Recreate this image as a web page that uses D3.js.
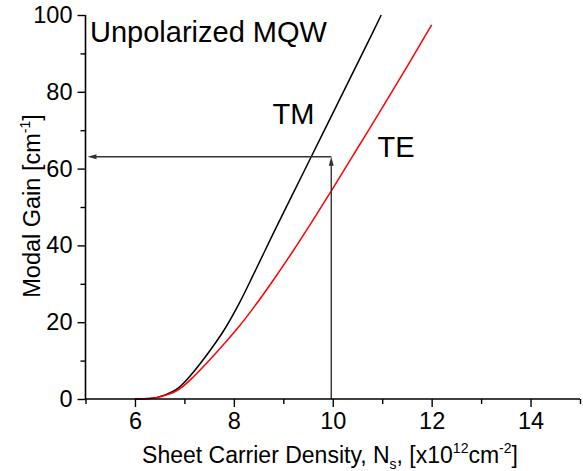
<!DOCTYPE html>
<html>
<head>
<meta charset="utf-8">
<script src="https://cdn.jsdelivr.net/npm/d3@7"></script>
<style>
  html, body { margin: 0; padding: 0; background: #fff; }
  text { font-family: "Liberation Sans", Arial, sans-serif; fill: #000; }
</style>
</head>
<body>
<svg id="chart" width="583" height="471"></svg>
<script>
// ---- data ----
const tmDensity = [6.0, 6.3, 6.6, 6.9, 7.2, 7.5, 7.8, 8.1, 8.4, 8.8, 9.2, 9.6, 10.0, 10.4, 10.8, 10.98];
const tmGain    = [0, 0.1, 1.0, 3.1, 7.3, 12.3, 17.9, 24.7, 32.5, 43.2, 53.6, 64.0, 74.4, 84.8, 95.2, 100];
const teDensity = [6.0, 6.3, 6.6, 6.9, 7.2, 7.5, 7.8, 8.1, 8.4, 8.8, 9.2, 9.6, 10.0, 10.5, 11.0, 11.5, 12.0];
const teGain    = [0, 0.1, 0.9, 2.6, 6.0, 10.0, 14.3, 18.8, 23.8, 31.0, 38.6, 46.6, 54.8, 65.3, 75.8, 86.5, 97.4];
const xTicks = [6, 8, 10, 12, 14];
const xMinorTicks = [5, 7, 9, 11, 13, 15];
const yTicks = [0, 20, 40, 60, 80, 100];
const yMinorTicks = [10, 30, 50, 70, 90];
const markerDensity = 9.97;   // vertical guide
const markerGain = 63.1;      // horizontal guide

// ---- layout ----
const svg = d3.select("#chart");
const x = d3.scaleLinear().domain([5, 15]).range([85.5, 580]);
const y = d3.scaleLinear().domain([0, 100]).range([399, 15]);

// curves
const line = d3.line().x(d => x(d[0])).y(d => y(d[1])).curve(d3.curveMonotoneX);
svg.append("path").datum(tmDensity.map((v, i) => [v, tmGain[i]]))
  .attr("d", line).attr("fill", "none").attr("stroke", "#000").attr("stroke-width", 1.5);
svg.append("path").datum(teDensity.map((v, i) => [v, teGain[i]]))
  .attr("d", line).attr("fill", "none").attr("stroke", "#ff0000").attr("stroke-width", 1.5);

// guide arrows
const guideColor = "#333";
svg.append("line")
  .attr("x1", x(markerDensity)).attr("y1", y(0))
  .attr("x2", x(markerDensity)).attr("y2", y(markerGain) + 6)
  .attr("stroke", guideColor).attr("stroke-width", 1.4);
svg.append("path")
  .attr("d", `M${x(markerDensity)},${y(markerGain)} l-2.5,9 l5,0 Z`)
  .attr("fill", guideColor);
svg.append("line")
  .attr("x1", x(markerDensity)).attr("y1", y(markerGain))
  .attr("x2", x(5) + 8).attr("y2", y(markerGain))
  .attr("stroke", guideColor).attr("stroke-width", 1.4);
svg.append("path")
  .attr("d", `M${x(5) + 2},${y(markerGain)} l9,-2.5 l0,5 Z`)
  .attr("fill", guideColor);

// axes
const xAxis = svg.append("g").attr("transform", `translate(0,${y(0)})`)
  .call(d3.axisBottom(x).tickValues(xTicks).tickSize(8).tickPadding(5).tickFormat(d3.format("d")));
svg.append("g").attr("transform", `translate(0,${y(0)})`)
  .call(d3.axisBottom(x).tickValues(xMinorTicks).tickSize(5).tickFormat(""))
  .call(g => g.select(".domain").remove());
const yAxis = svg.append("g").attr("transform", `translate(${x(5)},0)`)
  .call(d3.axisLeft(y).tickValues(yTicks).tickSize(8).tickPadding(5).tickFormat(d3.format("d")));
svg.append("g").attr("transform", `translate(${x(5)},0)`)
  .call(d3.axisLeft(y).tickValues(yMinorTicks).tickSize(5).tickFormat(""))
  .call(g => g.select(".domain").remove());

svg.selectAll(".domain").attr("stroke", "#000").attr("stroke-width", 1.6);
svg.selectAll(".tick line").attr("stroke", "#000").attr("stroke-width", 1.4);
svg.selectAll(".tick text").attr("font-size", 23.5)
  .attr("font-family", '"Liberation Sans", Arial, sans-serif').attr("fill", "#000");
xAxis.select(".domain").attr("d", `M${x(5)},0H${x(15)}`);
yAxis.select(".domain").attr("d", `M0,${y(0)}V${y(100)}`);

// labels
svg.append("text").attr("x", 90).attr("y", 42).attr("font-size", 29).text("Unpolarized MQW");
svg.append("text").attr("x", 272.5).attr("y", 124).attr("font-size", 29).text("TM");
svg.append("text").attr("x", 377.5).attr("y", 157).attr("font-size", 29).text("TE");

// axis titles
const xt = svg.append("text").attr("x", 330).attr("y", 463).attr("text-anchor", "middle").attr("font-size", 23);
xt.append("tspan").text("Sheet Carrier Density, N");
xt.append("tspan").attr("font-size", 14).attr("dy", 6).text("s");
xt.append("tspan").attr("dy", -6).text(", [x10");
xt.append("tspan").attr("font-size", 14).attr("dy", -10).text("12");
xt.append("tspan").attr("dy", 10).text("cm");
xt.append("tspan").attr("font-size", 14).attr("dy", -10).text("-2");
xt.append("tspan").attr("dy", 10).text("]");

const yt = svg.append("text").attr("transform", "translate(40,206) rotate(-90)")
  .attr("text-anchor", "middle").attr("font-size", 23.5);
yt.append("tspan").text("Modal Gain [cm");
yt.append("tspan").attr("font-size", 14).attr("dy", -10).text("-1");
yt.append("tspan").attr("dy", 10).text("]");
</script>
</body>
</html>
